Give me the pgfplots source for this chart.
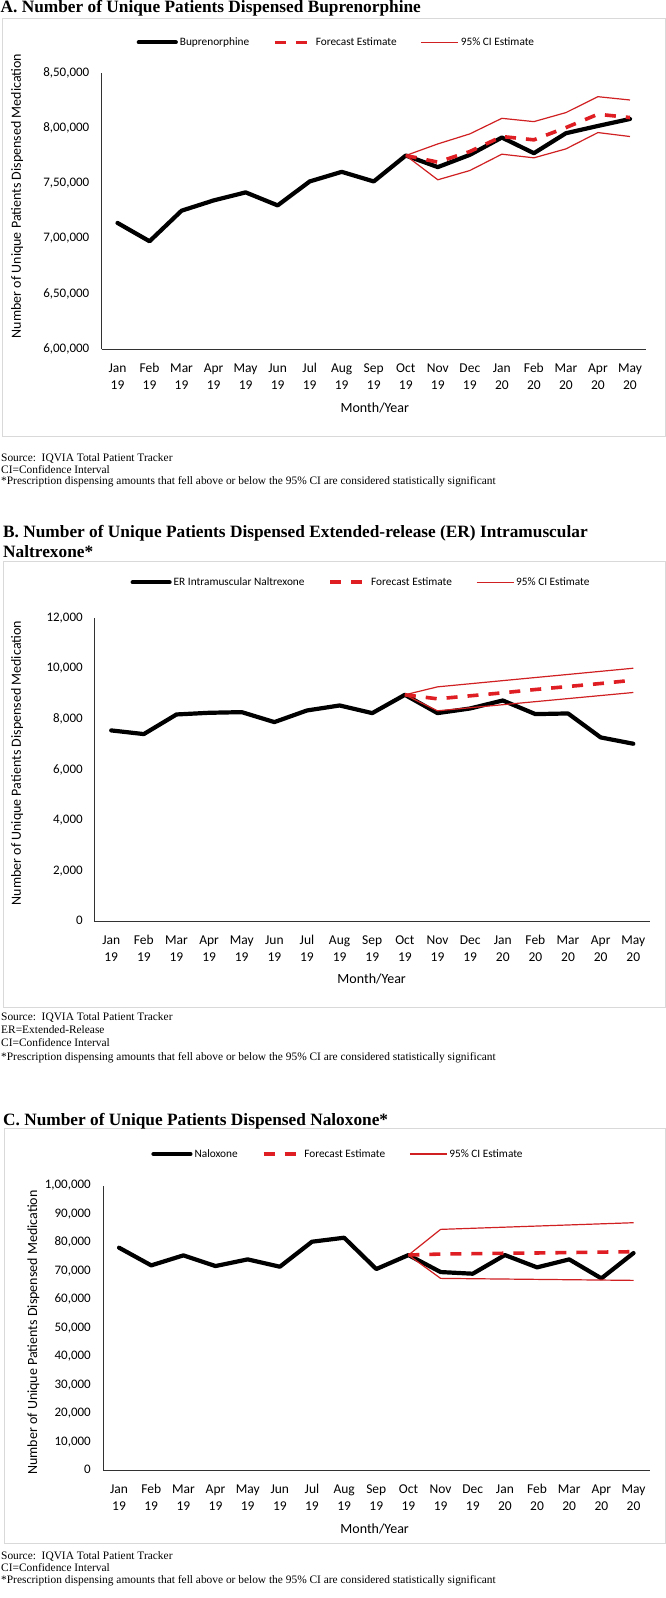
\documentclass[border=0pt]{standalone}
\usepackage{fontspec}
\setmainfont{Liberation Serif}
\newfontfamily\calibri{Carlito}
\usepackage{pgfplots}
\pgfplotsset{compat=1.18}
\definecolor{fred}{RGB}{222,30,34}
\definecolor{cired}{RGB}{208,32,34}
\definecolor{framegray}{RGB}{217,217,217}
\definecolor{axgray}{RGB}{50,50,50}

\pgfplotsset{
 panel/.style={
   scale only axis,
   axis x line*=bottom, axis y line*=left,
   axis line style={axgray, line width=0.9pt},
   xmin=-0.5, xmax=16.5,
   xtick={0,...,16},
   xticklabels={{Jan\\19},{Feb\\19},{Mar\\19},{Apr\\19},{May\\19},{Jun\\19},{Jul\\19},{Aug\\19},{Sep\\19},{Oct\\19},{Nov\\19},{Dec\\19},{Jan\\20},{Feb\\20},{Mar\\20},{Apr\\20},{May\\20}},
   major tick length=0pt,
   scaled y ticks=false,
   xticklabel style={align=center, font=\calibri\fontsize{13.5}{17}\selectfont, anchor=north, inner sep=0pt, yshift=-10.8pt},
   typeset ticklabels with strut,
   yticklabel style={font=\calibri\fontsize{13}{15}\selectfont, anchor=east, inner sep=0pt, xshift=-12pt},
   label style={font=\calibri\fontsize{14}{16}\selectfont},
   legend style={draw=none, fill=none, font=\calibri\fontsize{11.3}{13}\selectfont, legend columns=3, anchor=center,
     /tikz/every even column/.append style={column sep=22pt}},
   legend cell align=left,
   clip=false,
 },
 blk/.style={black, line width=4.2pt, line join=round, line cap=round},
 fc/.style={fred, line width=3.6pt, dash pattern=on 11pt off 10pt, line join=round},
 ci/.style={cired, line width=1.2pt, line join=round},
}

\begin{document}
\begin{tikzpicture}
\useasboundingbox (0pt,0pt) rectangle (666pt,-1598pt);
\fill[white] (0pt,0pt) rectangle (666pt,-1598pt);

% frames
\draw[framegray, line width=1pt] (2pt,-18pt) rectangle (665pt,-436pt);
\draw[framegray, line width=1pt] (3.4pt,-561pt) rectangle (665pt,-1007.7pt);
\draw[framegray, line width=1pt] (4pt,-1128.3pt) rectangle (665pt,-1543.3pt);

% titles
\begin{scope}[every node/.style={anchor=base west, inner sep=0pt, font=\bfseries\fontsize{17.3}{20}\selectfont}]
\node at (0.5pt,-12.7pt) {A. Number of Unique Patients Dispensed Buprenorphine};
\node at (3pt,-537.2pt) {B. Number of Unique Patients Dispensed Extended-release (ER) Intramuscular};
\node at (3pt,-557.2pt) {Naltrexone*};
\node at (3pt,-1125.5pt) {C. Number of Unique Patients Dispensed Naloxone*};
\end{scope}

% notes
\begin{scope}[every node/.style={anchor=base west, inner sep=0pt, font=\fontsize{11.4}{12}\selectfont}]
\node at (1pt,-461.5pt) {Source:\ \ IQVIA Total Patient Tracker};
\node at (1pt,-473pt) {CI=Confidence Interval};
\node at (1pt,-484.5pt) {*Prescription dispensing amounts that fell above or below the 95\% CI are considered statistically significant};
\node at (1pt,-1020pt) {Source:\ \ IQVIA Total Patient Tracker};
\node at (1pt,-1033.5pt) {ER=Extended-Release};
\node at (1pt,-1046.5pt) {CI=Confidence Interval};
\node at (1pt,-1060pt) {*Prescription dispensing amounts that fell above or below the 95\% CI are considered statistically significant};
\node at (1pt,-1559.5pt) {Source:\ \ IQVIA Total Patient Tracker};
\node at (1pt,-1571.5pt) {CI=Confidence Interval};
\node at (1pt,-1583.5pt) {*Prescription dispensing amounts that fell above or below the 95\% CI are considered statistically significant};
\end{scope}

% ---------- Panel A ----------
\begin{axis}[panel, at={(101.5pt,-349.3pt)}, anchor=south west, width=544.5pt, height=275.9pt,
  ymin=600000, ymax=850000,
  ytick={600000,650000,700000,750000,800000,850000},
  yticklabels={{6,00,000},{6,50,000},{7,00,000},{7,50,000},{8,00,000},{8,50,000}},
  xlabel={Month/Year}, xlabel style={at={(axis description cs:0.502,-0.2117)}, anchor=center},
  ylabel={Number of Unique Patients Dispensed Medication}, ylabel style={at={(axis description cs:-0.155,0.556)}, anchor=center},
  legend style={at={(axis description cs:0.4314,1.1127)}},
  legend image code/.code={\draw[#1] (0pt,0pt) -- (37pt,0pt);},
]
\addplot[blk] coordinates {(0,714500) (1,697900) (2,725600) (3,734900) (4,742200) (5,730400) (6,752100) (7,760800) (8,752100) (9,775600) (10,765100) (11,776200) (12,791900) (13,777700) (14,795800) (15,802400) (16,808700)};
\addlegendentry{Buprenorphine}
\addplot[fc] coordinates {(9,775600) (10,769600) (11,779200) (12,792800) (13,789800) (14,800900) (15,813000) (16,810000)};
\addlegendentry{Forecast Estimate}
\addplot[ci] coordinates {(9,775600) (10,786100) (11,795200) (12,809300) (13,806300) (14,814500) (15,828900) (16,825900)};
\addlegendentry{95\% CI Estimate}
\addplot[ci, forget plot] coordinates {(9,775600) (10,753600) (11,762000) (12,776800) (13,773500) (14,781600) (15,796400) (16,792800)};
\end{axis}

% ---------- Panel B ----------
\begin{axis}[panel, at={(94.9pt,-921.7pt)}, anchor=south west, width=554.7pt, height=303.4pt,
  ymin=0, ymax=12000,
  ytick={0,2000,4000,6000,8000,10000,12000},
  yticklabels={0,{2,000},{4,000},{6,000},{8,000},{10,000},{12,000}},
  xlabel={Month/Year}, xlabel style={at={(axis description cs:0.499,-0.1898)}, anchor=center},
  ylabel={Number of Unique Patients Dispensed Medication}, ylabel style={at={(axis description cs:-0.140,0.523)}, anchor=center},
  legend style={at={(axis description cs:0.4797,1.1187)}},
  legend image code/.code={\draw[#1] (0pt,0pt) -- (37pt,0pt);},
]
\addplot[blk] coordinates {(0,7566) (1,7421) (2,8197) (3,8263) (4,8289) (5,7895) (6,8355) (7,8553) (8,8250) (9,8974) (10,8250) (11,8434) (12,8750) (13,8211) (14,8237) (15,7289) (16,7039)};
\addlegendentry{ER Intramuscular Naltrexone}
\addplot[fc] coordinates {(9,8974) (10,8816) (11,8934) (12,9053) (13,9184) (14,9303) (15,9421) (16,9553)};
\addlegendentry{Forecast Estimate}
\addplot[ci] coordinates {(9,8974) (10,9289) (11,9412) (12,9535) (13,9658) (14,9780) (15,9903) (16,10026)};
\addlegendentry{95\% CI Estimate}
\addplot[ci, forget plot] coordinates {(9,8974) (10,8342) (11,8463) (12,8583) (13,8704) (14,8825) (15,8945) (16,9066)};
\end{axis}

% ---------- Panel C ----------
\begin{axis}[panel, at={(103pt,-1470.7pt)}, anchor=south west, width=546.6pt, height=285pt,
  ymin=0, ymax=100000,
  ytick={0,10000,20000,30000,40000,50000,60000,70000,80000,90000,100000},
  yticklabels={0,{10,000},{20,000},{30,000},{40,000},{50,000},{60,000},{70,000},{80,000},{90,000},{1,00,000}},
  xlabel={Month/Year}, xlabel style={at={(axis description cs:0.497,-0.2046)}, anchor=center},
  ylabel={Number of Unique Patients Dispensed Medication}, ylabel style={at={(axis description cs:-0.1275,0.485)}, anchor=center},
  legend style={at={(axis description cs:0.4299,1.1112)}},
  legend image code/.code={\draw[#1] (0pt,0pt) -- (37pt,0pt);},
]
\addplot[blk] coordinates {(0,78246) (1,72047) (2,75556) (3,71813) (4,74152) (5,71579) (6,80351) (7,81754) (8,70760) (9,75673) (10,69708) (11,69123) (12,75673) (13,71345) (14,74152) (15,67485) (16,76374)};
\addlegendentry{Naloxone}
\addplot[fc] coordinates {(9,75673) (10,76023) (11,76150) (12,76300) (13,76400) (14,76550) (15,76700) (16,76842)};
\addlegendentry{Forecast Estimate}
\addplot[ci] coordinates {(9,75673) (10,84678) (11,85068) (12,85458) (13,85848) (14,86238) (15,86628) (16,87018)};
\addlegendentry{95\% CI Estimate}
\addplot[ci, forget plot] coordinates {(9,75673) (10,67485) (11,67368) (12,67251) (13,67134) (14,67017) (15,66900) (16,66784)};
\end{axis}
\end{tikzpicture}
\end{document}
